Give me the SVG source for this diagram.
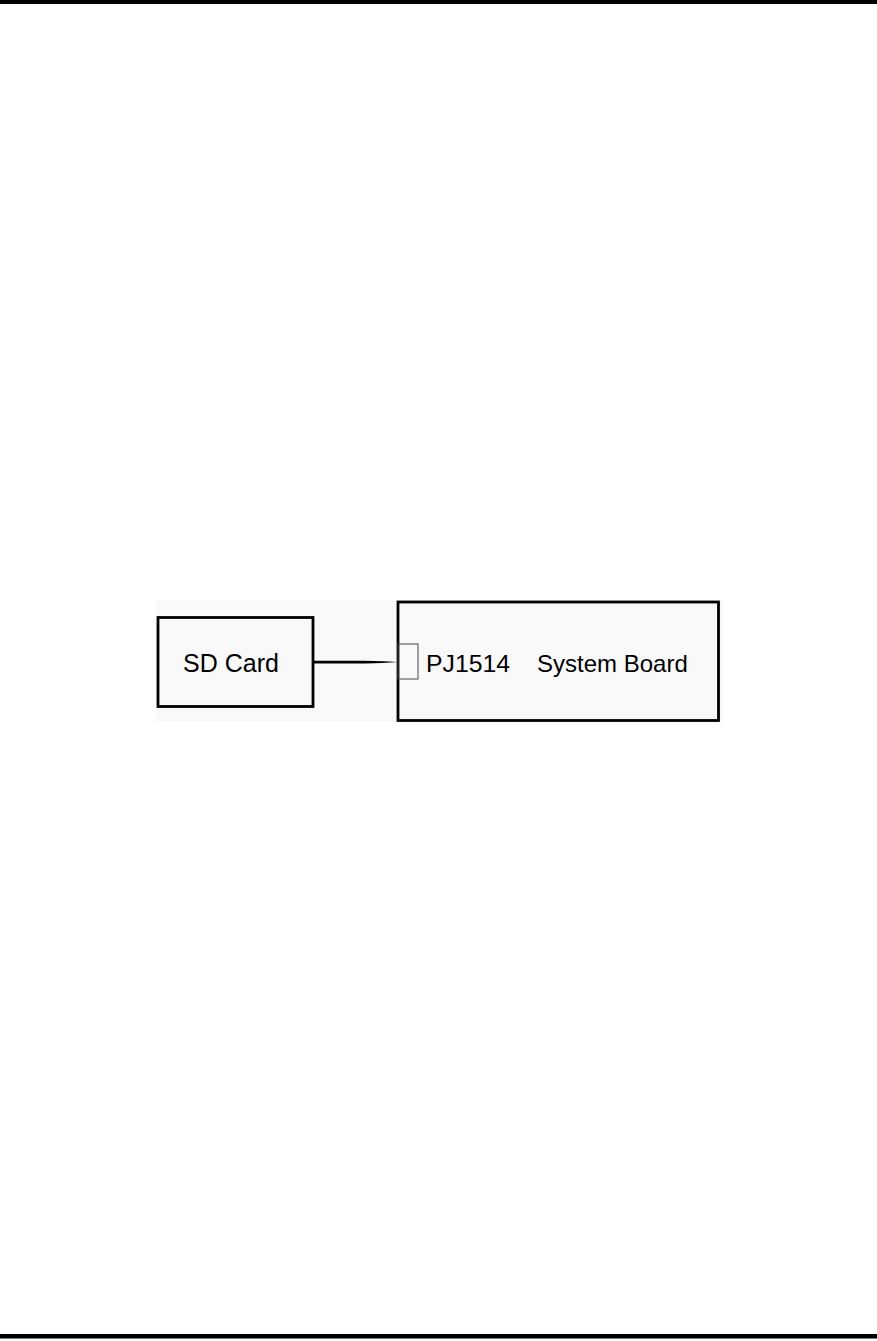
<svg xmlns="http://www.w3.org/2000/svg" width="877" height="1341" viewBox="0 0 877 1341">
<style>
.box{fill:none;stroke:#000;stroke-width:2.8}
.lbl{font-family:"Liberation Sans",Arial,sans-serif;font-size:24px;fill:#000}
</style>
<rect width="877" height="1341" fill="#fff"/>
<rect x="0" y="0" width="877" height="4" fill="#000"/>
<rect x="0" y="1334" width="877" height="4.5" fill="#000"/>
<rect x="156" y="600" width="567" height="122" fill="#f9f9f9"/>
<g id="sd-card">
<rect class="box" x="158" y="617.5" width="155" height="89"/>
<text class="lbl" x="183" y="672" style="font-size:25px">SD Card</text>
</g>
<g id="system-board">
<rect class="box" x="398" y="602" width="320.5" height="118.5" fill="#fcfcfc"/>
<rect x="398" y="644" width="20" height="35" fill="none" stroke="#444" stroke-width="1"/>
<text class="lbl" x="426" y="672" style="font-size:24.8px">PJ1514</text>
<text class="lbl" x="537" y="672">System Board</text>
</g>
<g id="connectors">
<path d="M313,660.8 L365,660.8 Q385,661.2 396,661.9 L396,662.3 Q385,663 365,663.4 L313,663.4 Z" fill="#000"/>
</g>
</svg>
